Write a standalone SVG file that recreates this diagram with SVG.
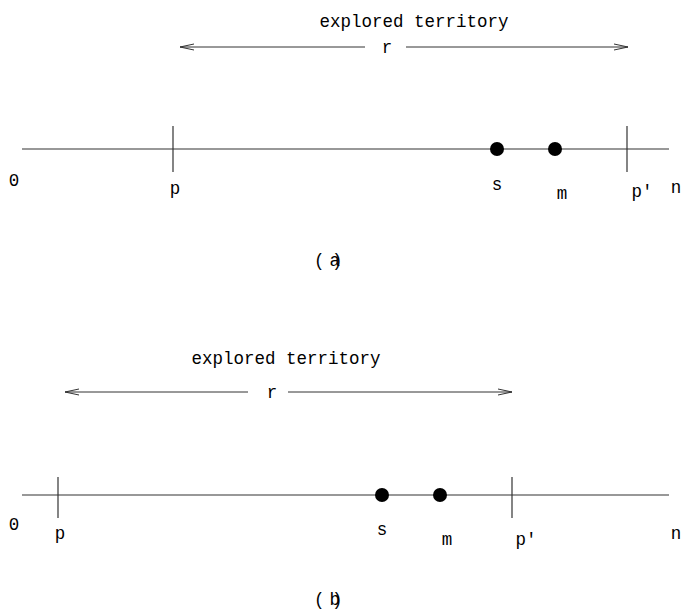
<svg xmlns="http://www.w3.org/2000/svg" width="683" height="611" viewBox="0 0 683 611">
<defs>
<marker id="ah" markerWidth="16" markerHeight="8" refX="15" refY="4" orient="auto-start-reverse" markerUnits="userSpaceOnUse">
<path d="M1,1 L15,4 L1,7" fill="none" stroke="#333" stroke-width="1"/>
</marker>
<style>
text{font-family:"Liberation Mono","Courier New",monospace;font-size:17.5px;fill:#000}
.ax{stroke:#333;stroke-width:1.2;fill:none}
.tk{stroke:#333;stroke-width:1.2}
.ar{stroke:#333;stroke-width:1;fill:none}
.dot{fill:#000}
</style>
</defs>
<rect width="683" height="611" fill="#fff"/>
<g id="panel-a">
<text x="414" y="27" text-anchor="middle">explored territory</text>
<g id="connectors-a">
<line class="ar" x1="365" y1="47" x2="180" y2="47" marker-end="url(#ah)"/>
<line class="ar" x1="406" y1="47" x2="628" y2="47" marker-end="url(#ah)"/>
<line class="ax" x1="22" y1="149" x2="669" y2="149"/>
<line class="tk" x1="173" y1="126" x2="173" y2="172"/>
<line class="tk" x1="627" y1="126" x2="627" y2="172"/>
</g>
<text x="387" y="53" text-anchor="middle">r</text>
<g id="a-s"><circle class="dot" cx="497" cy="149" r="7"/><text x="497" y="190" text-anchor="middle">s</text></g>
<g id="a-m"><circle class="dot" cx="555" cy="149" r="7"/><text x="562" y="199" text-anchor="middle">m</text></g>
<text x="14" y="186" text-anchor="middle">0</text>
<text x="175" y="194" text-anchor="middle">p</text>
<text x="642" y="197" text-anchor="middle">p'</text>
<text x="676" y="193" text-anchor="middle">n</text>
<text x="314" y="266">(<tspan dx="5">a</tspan><tspan dx="-8">)</tspan></text>
</g>
<g id="panel-b">
<text x="286" y="364" text-anchor="middle">explored territory</text>
<g id="connectors-b">
<line class="ar" x1="248" y1="392" x2="65" y2="392" marker-end="url(#ah)"/>
<line class="ar" x1="288" y1="392" x2="512" y2="392" marker-end="url(#ah)"/>
<line class="ax" x1="22" y1="495" x2="669" y2="495"/>
<line class="tk" x1="58" y1="477" x2="58" y2="518"/>
<line class="tk" x1="512" y1="477" x2="512" y2="518"/>
</g>
<text x="272" y="398" text-anchor="middle">r</text>
<g id="b-s"><circle class="dot" cx="382" cy="495" r="7"/><text x="382" y="535" text-anchor="middle">s</text></g>
<g id="b-m"><circle class="dot" cx="440" cy="495" r="7"/><text x="447" y="545" text-anchor="middle">m</text></g>
<text x="14" y="530" text-anchor="middle">0</text>
<text x="60" y="539" text-anchor="middle">p</text>
<text x="526" y="545" text-anchor="middle">p'</text>
<text x="676" y="539" text-anchor="middle">n</text>
<text x="314" y="605">(<tspan dx="5">b</tspan><tspan dx="-8">)</tspan></text>
</g>
</svg>
